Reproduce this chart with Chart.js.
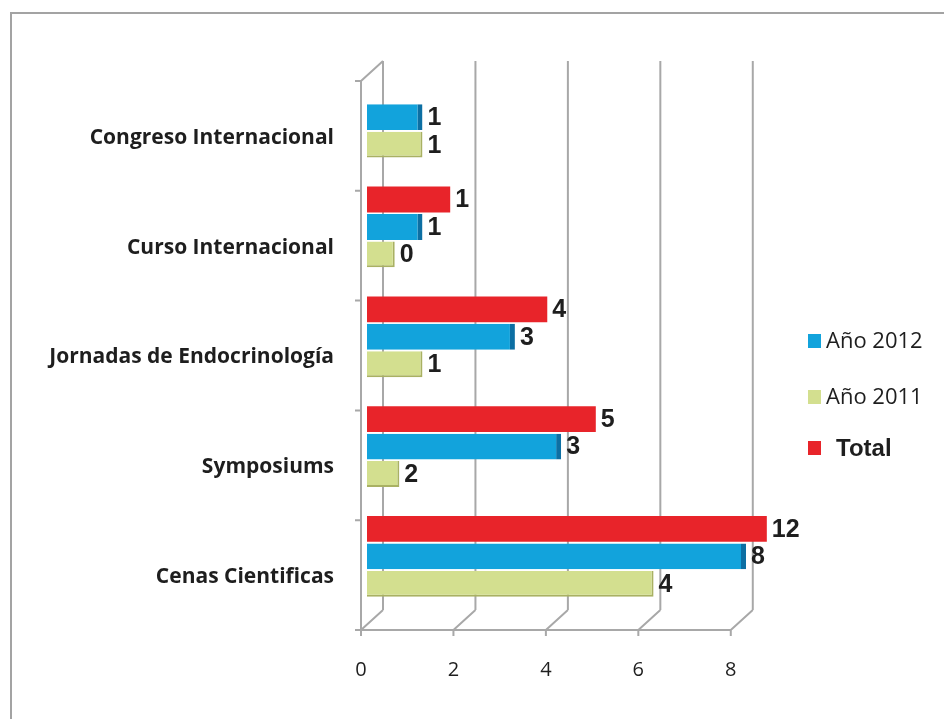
<!DOCTYPE html>
<html>
<head>
<meta charset="utf-8">
<script src="https://cdn.jsdelivr.net/npm/chart.js@4"></script>
<style>
  html, body { margin: 0; padding: 0; background: #fff; }
  #wrap { width: 944px; height: 719px; }
</style>
</head>
<body>
<div id="wrap"><canvas id="myChart" width="944" height="719"></canvas></div>
<script>
	// datos
	var categorias = ['Congreso Internacional', 'Curso Internacional', 'Jornadas de Endocrinología', 'Symposiums', 'Cenas Cientificas'];
	// largo de las barras tal como se ven
	var total = [null, 1.8, 3.9, 4.95, 8.65];
	var anio2012 = [1.2, 1.2, 3.2, 4.2, 8.2];
	var anio2011 = [1.2, 0.6, 1.2, 0.7, 6.2];
	// rotulos que aparecen junto a las barras
	var rotuloTotal = [null, '1', '4', '5', '12'];
	var rotulo2012 = ['1', '1', '3', '3', '8'];
	var rotulo2011 = ['1', '0', '1', '2', '4'];
	var ticksX = [0, 2, 4, 6, 8];

	var rojo = '#e8242a', azul = '#12a3dc', verde = '#d3df8f';
	var rotulos = [rotuloTotal, rotulo2012, rotulo2011];

	// desplazamientos del efecto 3D (frente / fondo)
	var fx = -6, fy = 5, bx = 16, by = -15;

	var marco3d = {
		id : 'marco3d',
		beforeDraw : function(chart) {
			var c = chart.ctx;
			c.save();
			c.strokeStyle = '#a3a3a3';
			c.lineWidth = 2;
			c.beginPath();
			c.moveTo(11, 719); c.lineTo(11, 13); c.lineTo(944, 13);
			c.stroke();
			c.restore();
		},
		beforeDatasetsDraw : function(chart) {
			var c = chart.ctx, xs = chart.scales.x, ys = chart.scales.y;
			var top = chart.chartArea.top, bottom = chart.chartArea.bottom;
			var x0 = xs.getPixelForValue(0);
			var xMax = xs.getPixelForValue(ticksX[ticksX.length - 1]);
			c.save();
			c.strokeStyle = '#a8a8a8';
			c.lineWidth = 2;
			c.beginPath();
			xs.ticks.forEach(function(t) {
				var px = xs.getPixelForValue(t.value);
				c.moveTo(px + bx, top + by); c.lineTo(px + bx, bottom + by);
				c.moveTo(px + fx, bottom + fy); c.lineTo(px + bx, bottom + by);
				c.moveTo(px + fx, bottom + fy); c.lineTo(px + fx, bottom + fy + 6);
			});
			c.moveTo(x0 + fx, top + fy); c.lineTo(x0 + fx, bottom + fy);
			c.moveTo(x0 + fx, top + fy); c.lineTo(x0 + bx, top + by);
			c.moveTo(x0 + fx, bottom + fy); c.lineTo(xMax + fx, bottom + fy);
			var n = categorias.length, banda = (bottom - top) / n;
			for (var i = 0; i <= n; i++) {
				var y = top + i * banda + fy;
				c.moveTo(x0 + fx - 6, y); c.lineTo(x0 + fx, y);
			}
			c.stroke();
			c.restore();
		},
		afterDatasetsDraw : function(chart) {
			var c = chart.ctx;
			c.save();
			c.font = 'bold 25px "Liberation Sans", Arial, sans-serif';
			c.fillStyle = '#1e1e1e';
			c.textBaseline = 'middle';
			c.textAlign = 'left';
			for (var d = 0; d < 3; d++) {
				var meta = chart.getDatasetMeta(d);
				meta.data.forEach(function(bar, j) {
					var txt = rotulos[d][j];
					if (txt === null || txt === undefined) return;
					c.fillText(txt, bar.x + 5, bar.y + 1);
				});
			}
			// leyenda
			var items = [
				{ ds : 1, y : 341, font : '22px "Open Sans", Lato, sans-serif', tx : 826 },
				{ ds : 2, y : 397, font : '22px "Open Sans", Lato, sans-serif', tx : 826 },
				{ ds : 0, y : 448, font : 'bold 24px "Liberation Sans", Arial, sans-serif', tx : 836 }
			];
			items.forEach(function(it) {
				var ds = chart.data.datasets[it.ds];
				c.fillStyle = ds.backgroundColor;
				c.fillRect(808, it.y - 7, 13, 14);
				c.fillStyle = '#1e1e1e';
				c.font = it.font;
				c.fillText(ds.label, it.tx, it.y + 1);
			});
			c.restore();
		}
	};

	var ctx = document.getElementById('myChart');
	var myChart = new Chart(ctx, {
		type : 'bar',
		data : {
			labels : categorias,
			datasets : [ {
				label : 'Total',
				data : total,
				backgroundColor : rojo,
				borderWidth : 0
			}, {
				label : 'Año 2012',
				data : anio2012,
				backgroundColor : azul,
				borderColor : '#0d6fa3',
				borderWidth : { top : 0, right : 5, bottom : 0, left : 0 },
				borderSkipped : false
			}, {
				label : 'Año 2011',
				data : anio2011,
				backgroundColor : verde,
				borderColor : '#a9b163',
				borderWidth : { top : 0, right : 2, bottom : 2, left : 0 },
				borderSkipped : false
			}, {
				// hueco vacio para dejar espacio bajo cada grupo
				label : '',
				data : []
			} ]
		},
		options : {
			responsive : false,
			animation : false,
			indexAxis : 'y',
			datasets : {
				bar : { categoryPercentage : 1, barPercentage : 0.94 }
			},
			layout : {
				padding : { left : 0, right : 161, top : 76, bottom : 32 }
			},
			plugins : {
				legend : { display : false },
				tooltip : { enabled : false }
			},
			scales : {
				x : {
					type : 'linear',
					min : 0,
					max : 9,
					grid : { display : false },
					border : { display : false },
					afterBuildTicks : function(scale) {
						scale.ticks = ticksX.map(function(v) { return { value : v }; });
					},
					afterFit : function(scale) { scale.height = 62; },
					ticks : {
						padding : 25,
						labelOffset : -6,
						color : '#1e1e1e',
						font : { family : '"Open Sans", Lato, sans-serif', size : 20 }
					}
				},
				y : {
					grid : { display : false },
					border : { display : false },
					afterFit : function(scale) { scale.width = 367; },
					ticks : {
						padding : 25,
						labelOffset : 7,
						color : '#1e1e1e',
						font : { family : '"Open Sans", Lato, sans-serif', size : 21, weight : 'bold' }
					}
				}
			}
		},
		plugins : [ marco3d ]
	});
</script>
</body>
</html>
